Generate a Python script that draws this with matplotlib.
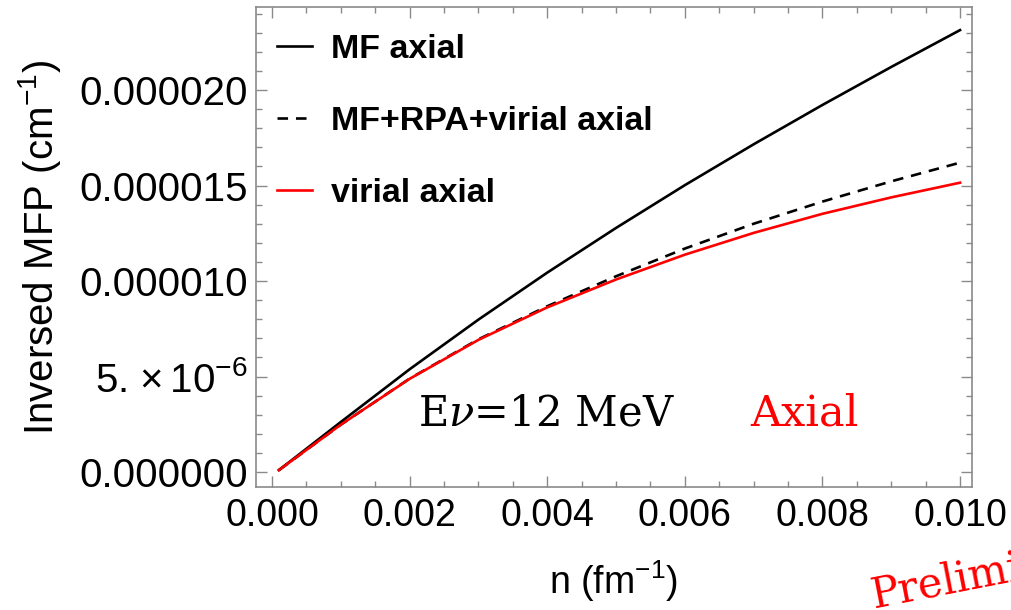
import matplotlib
matplotlib.use("Agg")
import matplotlib.pyplot as plt
from matplotlib.ticker import MultipleLocator, FixedLocator

# densité n (fm^-1) et inverse du libre parcours moyen (cm^-1)
n_vals = [0.0001, 0.001, 0.002, 0.003, 0.004, 0.005, 0.006, 0.007, 0.008, 0.009, 0.010]
mf_axial = [0.1, 2.62, 5.38, 7.98, 10.44, 12.78, 15.02, 17.16, 19.22, 21.21, 23.14]
rpa_axial = [0.1, 2.48, 4.89, 6.95, 8.68, 10.25, 11.70, 13.00, 14.16, 15.22, 16.20]
virial_axial = [0.1, 2.48, 4.88, 6.92, 8.62, 10.08, 11.38, 12.52, 13.52, 14.38, 15.15]

labels = ["MF axial", "MF+RPA+virial axial", "virial axial"]
y_ticks = [0.0, 5e-6, 10e-6, 15e-6, 20e-6]
y_ticklabels = ["0.000000", r"5. $\times\,10^{-6}$", "0.000010", "0.000015", "0.000020"]
x_ticks = [0.000, 0.002, 0.004, 0.006, 0.008, 0.010]
x_ticklabels = ["0.000", "0.002", "0.004", "0.006", "0.008", "0.010"]

plt.rcParams["font.family"] = ["Liberation Sans", "DejaVu Sans"]
plt.rcParams["mathtext.fontset"] = "custom"
plt.rcParams["mathtext.rm"] = "Liberation Sans"

fig = plt.figure(figsize=(10.12, 6.10), dpi=100)
ax = fig.add_axes([256 / 1012, 1 - 487 / 610, 716 / 1012, 480 / 610])

e6 = 1e-6
ax.plot(n_vals, [v * e6 for v in mf_axial], color="black", lw=1.9, label=labels[0])
ax.plot(n_vals, [v * e6 for v in rpa_axial], color="black", lw=1.9, ls=(0, (4, 3)), label=labels[1])
ax.plot(n_vals, [v * e6 for v in virial_axial], color="red", lw=1.9, label=labels[2])

ax.set_xlim(-0.000233, 0.010174)
ax.set_ylim(-0.785e-6, 24.35e-6)

ax.xaxis.set_major_locator(FixedLocator(x_ticks))
ax.set_xticklabels(x_ticklabels)
ax.xaxis.set_minor_locator(MultipleLocator(0.0005))
ax.yaxis.set_major_locator(FixedLocator(y_ticks))
ax.set_yticklabels(y_ticklabels)
ax.yaxis.set_minor_locator(MultipleLocator(1e-6))

grey = "#8a8a8a"
for s in ax.spines.values():
    s.set_color(grey)
    s.set_linewidth(1.2)
ax.tick_params(which="both", direction="in", top=True, right=True, color=grey, width=1.0,
               labelcolor="black")
ax.tick_params(which="major", length=8)
ax.tick_params(which="minor", length=4.5)
ax.tick_params(axis="y", pad=6, labelsize=29)
ax.tick_params(axis="x", pad=8, labelsize=27)

ax.set_ylabel(r"Inversed MFP (cm$^{-1}$)", fontsize=29)
ax.set_xlabel(r"n (fm$^{-1}$)", fontsize=27)
ax.yaxis.set_label_coords(-0.27, 0.5)
ax.xaxis.set_label_coords(0.5, -0.148)

leg = ax.legend(loc="upper left", bbox_to_anchor=(0.029, 0.943), frameon=False,
                borderpad=0, borderaxespad=0, handlelength=1.05, handletextpad=0.55,
                labelspacing=1.2, prop={"weight": "bold", "size": 24.5})

ax.text(0.226, 0.129, r"E$\nu$=12 MeV", transform=ax.transAxes, fontsize=30,
        family="DejaVu Serif", math_fontfamily="dejavuserif", va="baseline", color="black")
ax.text(0.69, 0.129, "Axial", transform=ax.transAxes, fontsize=31,
        family="DejaVu Serif", va="baseline", color="red")

fig.text(0.857, 0.004, "Preliminary", fontsize=30, family="DejaVu Serif", color="red",
         rotation=11, va="baseline", ha="left")

fig.savefig("out.png", dpi=100)
